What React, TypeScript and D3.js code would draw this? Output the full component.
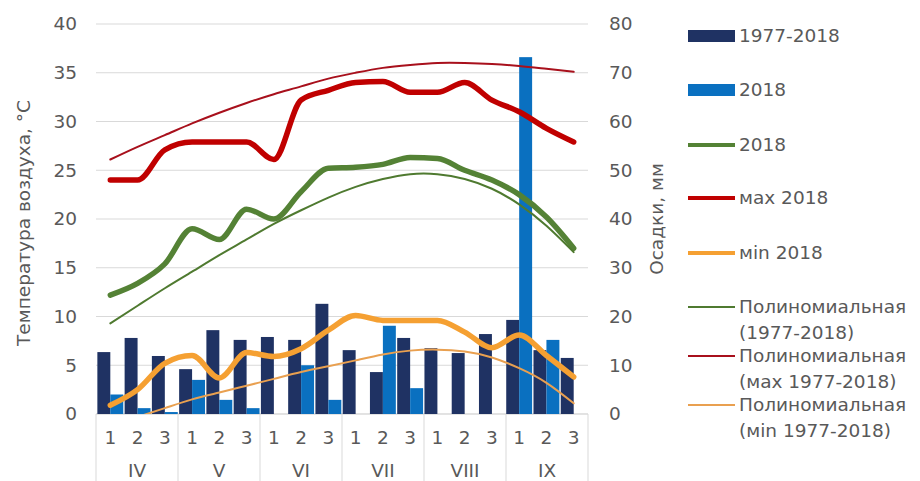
import React, { useEffect, useRef } from 'react';
import * as d3 from 'd3';

const months = ['IV', 'V', 'VI', 'VII', 'VIII', 'IX'];
const decades = ['1', '2', '3'];

// осадки, мм (правая ось)
const precipLong = [12.7, 15.6, 11.9, 9.2, 17.2, 15.2, 15.8, 15.2, 22.6, 13.1, 8.6, 15.6, 13.5, 12.5, 16.4, 19.3, 13.1, 11.5];
const precip2018 = [4.0, 1.2, 0.4, 7.0, 2.9, 1.2, 0, 10.0, 2.9, 0, 18.1, 5.3, 0, 0, 0, 73.2, 15.2, 0];

// температура, °C (левая ось)
const tMean2018 = [12.2, 13.4, 15.4, 19.0, 17.9, 21.0, 20.0, 22.8, 25.2, 25.3, 25.6, 26.3, 26.2, 25.0, 24.0, 22.5, 20.2, 17.0];
const tMax2018 = [24.0, 24.0, 27.1, 27.9, 27.9, 27.9, 26.1, 32.2, 33.2, 34.0, 34.1, 33.0, 33.0, 34.0, 32.2, 31.0, 29.3, 27.9];
const tMin2018 = [0.9, 2.5, 5.2, 6.0, 3.7, 6.3, 5.9, 6.7, 8.6, 10.1, 9.6, 9.6, 9.6, 8.4, 6.8, 8.1, 6.0, 3.8];

// полиномиальные тренды 1977-2018
const trendMean = [9.3, 11.1, 12.9, 14.6, 16.3, 17.9, 19.5, 20.9, 22.2, 23.3, 24.1, 24.6, 24.6, 24.1, 23.1, 21.5, 19.3, 16.6];
const trendMax = [26.1, 27.4, 28.6, 29.8, 30.9, 31.9, 32.8, 33.6, 34.4, 35.0, 35.5, 35.8, 36.0, 36.0, 35.9, 35.7, 35.4, 35.1];
const trendMin = [-1.2, -0.3, 0.6, 1.5, 2.2, 2.9, 3.6, 4.3, 4.9, 5.5, 6.1, 6.5, 6.6, 6.4, 5.8, 4.7, 3.2, 1.1];

const leftTicks = [0, 5, 10, 15, 20, 25, 30, 35, 40];
const rightTicks = [0, 10, 20, 30, 40, 50, 60, 70, 80];

const FONT = '"DejaVu Sans", sans-serif';
const FS = '18.5px';
const TEXT = '#595959';

const App: React.FC = () => {
  const svgRef = useRef<SVGSVGElement>(null);

  useEffect(() => {
    if (!svgRef.current) return;
    const svg = d3.select(svgRef.current);
    svg.selectAll('*').remove();

    const left = 96, right = 588, top = 24, bottom = 414;
    const cats = months.flatMap(m => decades.map(d => `${m}-${d}`));

    const x = d3.scaleBand<string>().domain(cats).range([left, right]).padding(0.05);
    const xs = d3.scaleBand<string>().domain(['a', 'b']).range([0, x.bandwidth()]);
    const yT = d3.scaleLinear().domain([0, 40]).range([bottom, top]);
    const yP = d3.scaleLinear().domain([0, 80]).range([bottom, top]);
    const cx = (i: number) => (x(cats[i]) as number) + x.bandwidth() / 2;

    svg.append('defs').append('clipPath').attr('id', 'plot')
      .append('rect').attr('x', left).attr('y', 0).attr('width', right - left).attr('height', bottom);

    // grid
    svg.append('g').selectAll('line').data(leftTicks).enter().append('line')
      .attr('x1', left).attr('x2', right)
      .attr('y1', d => yT(d)).attr('y2', d => yT(d))
      .style('stroke', '#d9d9d9').style('stroke-width', 1);

    const txt = (sel: any) => sel.style('font-family', FONT).style('font-size', FS).style('fill', TEXT);

    // axis labels
    svg.append('g').selectAll('text').data(leftTicks).enter().append('text')
      .attr('x', 77).attr('y', d => yT(d)).attr('dy', '0.35em')
      .style('text-anchor', 'end').call(txt)
      .text(d => d);

    svg.append('g').selectAll('text').data(rightTicks).enter().append('text')
      .attr('x', 609).attr('y', d => yP(d)).attr('dy', '0.35em')
      .style('text-anchor', 'start').call(txt)
      .text(d => d);

    svg.append('text')
      .attr('transform', `translate(24,${(top + bottom) / 2 + 4}) rotate(-90)`)
      .attr('dy', '0.35em')
      .style('text-anchor', 'middle').call(txt)
      .text('Температура воздуха, °С');

    svg.append('text')
      .attr('transform', `translate(657,${(top + bottom) / 2}) rotate(-90)`)
      .attr('dy', '0.35em')
      .style('text-anchor', 'middle').call(txt)
      .text('Осадки, мм');

    // category axis
    const monthW = (right - left) / months.length;
    svg.append('line').attr('x1', left).attr('x2', right).attr('y1', bottom).attr('y2', bottom)
      .style('stroke', '#d9d9d9');
    svg.append('g').selectAll('line').data(d3.range(months.length + 1)).enter().append('line')
      .attr('x1', d => left + d * monthW).attr('x2', d => left + d * monthW)
      .attr('y1', bottom).attr('y2', 481)
      .style('stroke', '#d9d9d9');
    svg.append('g').selectAll('text').data(cats).enter().append('text')
      .attr('x', (_, i) => cx(i)).attr('y', 438).attr('dy', '0.35em')
      .style('text-anchor', 'middle').call(txt)
      .text(d => d.split('-')[1]);
    svg.append('g').selectAll('text').data(months).enter().append('text')
      .attr('x', (_, i) => left + (i + 0.5) * monthW).attr('y', 471).attr('dy', '0.35em')
      .style('text-anchor', 'middle').call(txt)
      .text(d => d);

    // bars
    const bars = svg.append('g');
    bars.selectAll('.b1').data(precipLong).enter().append('rect')
      .attr('x', (_, i) => (x(cats[i]) as number) + (xs('a') as number))
      .attr('width', xs.bandwidth())
      .attr('y', d => yP(d)).attr('height', d => bottom - yP(d))
      .style('fill', '#1f3263');
    bars.selectAll('.b2').data(precip2018).enter().append('rect')
      .attr('x', (_, i) => (x(cats[i]) as number) + (xs('b') as number))
      .attr('width', xs.bandwidth())
      .attr('y', d => yP(d)).attr('height', d => bottom - yP(d))
      .style('fill', '#0a70c0');

    // lines
    const lines = svg.append('g').attr('clip-path', 'url(#plot)');
    const mk = (curve: d3.CurveFactory) =>
      d3.line<number>().x((_, i) => cx(i)).y(d => yT(d)).curve(curve);
    const addLine = (data: number[], color: string, w: number, curve: d3.CurveFactory) =>
      lines.append('path').attr('d', mk(curve)(data))
        .style('fill', 'none').style('stroke', color).style('stroke-width', w)
        .style('stroke-linejoin', 'round').style('stroke-linecap', 'round');

    addLine(tMin2018, '#f5a032', 5.5, d3.curveMonotoneX);
    addLine(tMean2018, '#548235', 5.5, d3.curveMonotoneX);
    addLine(tMax2018, '#c00000', 5.5, d3.curveMonotoneX);
    addLine(trendMin, '#e9a050', 2, d3.curveNatural);
    addLine(trendMean, '#4f7a30', 2, d3.curveNatural);
    addLine(trendMax, '#a8101c', 2, d3.curveNatural);

    // legend
    const lg = svg.append('g').call(txt);
    const legend = [
      { label: ['1977-2018'], y: 36, kind: 'bar', color: '#1f3263', w: 0 },
      { label: ['2018'], y: 90, kind: 'bar', color: '#0a70c0', w: 0 },
      { label: ['2018'], y: 145, kind: 'line', color: '#548235', w: 4 },
      { label: ['мах 2018'], y: 198, kind: 'line', color: '#c00000', w: 4 },
      { label: ['мin 2018'], y: 253, kind: 'line', color: '#f5a032', w: 4 },
      { label: ['Полиномиальная', '(1977-2018)'], y: 307, kind: 'line', color: '#4f7a30', w: 2 },
      { label: ['Полиномиальная', '(мах 1977-2018)'], y: 356, kind: 'line', color: '#a8101c', w: 2 },
      { label: ['Полиномиальная', '(мin 1977-2018)'], y: 405, kind: 'line', color: '#e9a050', w: 2 },
    ];
    legend.forEach(it => {
      if (it.kind === 'bar') {
        lg.append('rect').attr('x', 688).attr('y', it.y - 6).attr('width', 47).attr('height', 12).style('fill', it.color);
      } else {
        lg.append('line').attr('x1', 688).attr('x2', 735).attr('y1', it.y).attr('y2', it.y)
          .style('stroke', it.color).style('stroke-width', it.w);
      }
      it.label.forEach((t, k) => {
        lg.append('text').attr('x', 739).attr('y', it.y + k * 26).attr('dy', '0.35em').text(t);
      });
    });
  }, []);

  return (
    <svg ref={svgRef} width={920} height={481}
      style={{ position: 'absolute', left: 0, top: 0, background: '#fff' }} />
  );
};

export default App;
